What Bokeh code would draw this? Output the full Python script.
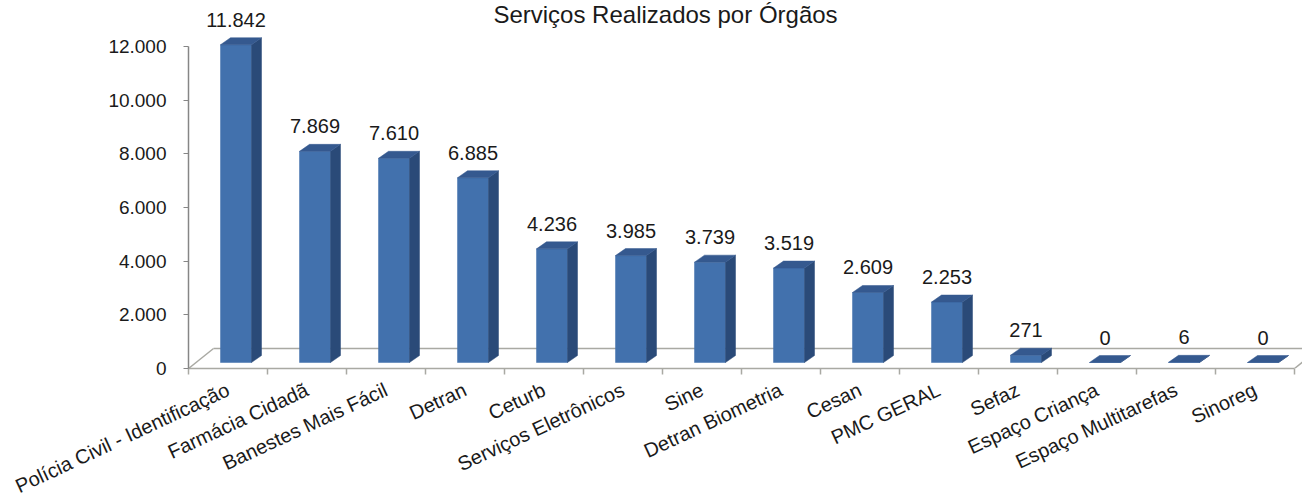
import math
from bokeh.plotting import figure
from bokeh.models import Range1d, FixedTicker, Label, CustomJSTickFormatter
from bokeh.core.properties import value
from bokeh.embed import file_html
from bokeh.resources import INLINE

# ---------------- data ----------------
categories = [
    "Polícia Civil - Identificação", "Farmácia Cidadã", "Banestes Mais Fácil",
    "Detran", "Ceturb", "Serviços Eletrônicos", "Sine", "Detran Biometria",
    "Cesan", "PMC GERAL", "Sefaz", "Espaço Criança", "Espaço Multitarefas", "Sinoreg",
]
values = [11842, 7869, 7610, 6885, 4236, 3985, 3739, 3519, 2609, 2253, 271, 0, 6, 0]
value_labels = ["11.842", "7.869", "7.610", "6.885", "4.236", "3.985", "3.739",
                "3.519", "2.609", "2.253", "271", "0", "6", "0"]
y_ticks = [0, 2000, 4000, 6000, 8000, 10000, 12000]
y_tick_labels = ["0", "2.000", "4.000", "6.000", "8.000", "10.000", "12.000"]
title_text = "Serviços Realizados por Órgãos"

# ---------------- layout / style ----------------
FONT = "Liberation Sans"
BL, BR, BT, BB = 188, 0, 0, 120
FW, FH = 1114, 368
CAT_PX = 79.0                 # px per category
Y_PX = 322.0 / 12000.0        # px per unit
n = len(categories)
x_end = FW / CAT_PX
y_end = FH / Y_PX
dxp = 1.0 / CAT_PX            # data units per px (x)
dyp = 1.0 / Y_PX              # data units per px (y)

SHIFT_X, SHIFT_Y = 8, 6       # bar base shift into depth (px)
BAR_W = 31
DEPTH_X, DEPTH_Y = 10, 7      # bar depth (px)
FLOOR_X, FLOOR_Y = 25, 20     # floor depth (px)

FRONT = "#4271AD"
SIDE = "#2A4A78"
TOP = "#35598F"
FLOOR_COL = "#a9a9a3"
TEXT_COL = "#1a1a1a"

p = figure(frame_width=FW, frame_height=FH,
           x_range=Range1d(0, x_end), y_range=Range1d(0, y_end),
           output_backend="svg", toolbar_location=None,
           min_border_left=BL, min_border_right=BR,
           min_border_top=BT, min_border_bottom=BB)
p.outline_line_color = None
p.grid.visible = False
p.background_fill_color = "white"
p.border_fill_color = "white"

# ---------------- floor ----------------
fx = FLOOR_X * dxp
fy = FLOOR_Y * dyp
p.multi_line(xs=[[fx, n + fx + 1], [0, fx], [n, n + fx]],
             ys=[[fy, fy], [0, fy], [0, fy]],
             line_color=FLOOR_COL, line_width=1.5)

# ---------------- bars ----------------
centers = [i + 0.5 for i in range(n)]
front_l, front_r, front_b, front_t = [], [], [], []
side_xs, side_ys, top_xs, top_ys = [], [], [], []
ddx, ddy = DEPTH_X * dxp, DEPTH_Y * dyp
for c, v in zip(centers, values):
    l = c + (SHIFT_X - BAR_W / 2) * dxp
    r = l + BAR_W * dxp
    b = SHIFT_Y * dyp
    t = v + b
    front_l.append(l); front_r.append(r); front_b.append(b); front_t.append(t)
    side_xs.append([r, r + ddx, r + ddx, r])
    side_ys.append([b, b + ddy, t + ddy, t])
    top_xs.append([l, r, r + ddx, l + ddx])
    top_ys.append([t, t, t + ddy, t + ddy])

p.quad(left=front_l, right=front_r, bottom=front_b, top=front_t,
       fill_color=FRONT, line_color=FRONT, line_width=0.5)
p.patches(xs=side_xs, ys=side_ys, fill_color=SIDE, line_color=SIDE, line_width=0.5)
p.patches(xs=top_xs, ys=top_ys, fill_color=TOP, line_color=TOP, line_width=0.5)

# ---------------- data labels ----------------
p.text(x=[c + SHIFT_X * dxp for c in centers], y=values, text=value_labels,
       y_offset=-(SHIFT_Y + 25), text_align="center", text_baseline="middle",
       text_font=value(FONT), text_font_size="20px", text_color=TEXT_COL)

# ---------------- axes ----------------
xa = p.xaxis[0]
xa.ticker = FixedTicker(ticks=centers, minor_ticks=list(range(n + 1)))
xa.formatter = CustomJSTickFormatter(args=dict(labels=categories),
                                     code="const i = Math.floor(tick); return labels[i] || '';")
xa.bounds = (0, n)
xa.axis_line_color = FLOOR_COL
xa.axis_line_width = 1.5
xa.major_tick_line_color = None
xa.major_tick_out = 0
xa.major_tick_in = 0
xa.minor_tick_line_color = FLOOR_COL
xa.minor_tick_line_width = 1.5
xa.minor_tick_out = 6
xa.minor_tick_in = 0
xa.major_label_orientation = math.radians(25)
xa.major_label_standoff = 14
xa.major_label_text_font = FONT
xa.major_label_text_font_size = "20px"
xa.major_label_text_color = TEXT_COL

ya = p.yaxis[0]
ya.ticker = FixedTicker(ticks=y_ticks)
ya.major_label_overrides = dict(zip(y_ticks, y_tick_labels))
ya.bounds = (0, 12000)
ya.axis_line_color = "#868686"
ya.axis_line_width = 1.5
ya.major_tick_line_color = "#868686"
ya.major_tick_out = 5
ya.major_tick_in = 0
ya.minor_tick_line_color = None
ya.major_label_standoff = 17
ya.major_label_text_font = FONT
ya.major_label_text_font_size = "19px"
ya.major_label_text_color = TEXT_COL

# ---------------- title ----------------
p.add_layout(Label(x=477, y=FH - 14, x_units="screen", y_units="screen",
                   text=title_text, text_align="center", text_baseline="middle",
                   text_font=FONT, text_font_size="24px", text_color=TEXT_COL))

open("out.html", "w").write(file_html(p, INLINE))
